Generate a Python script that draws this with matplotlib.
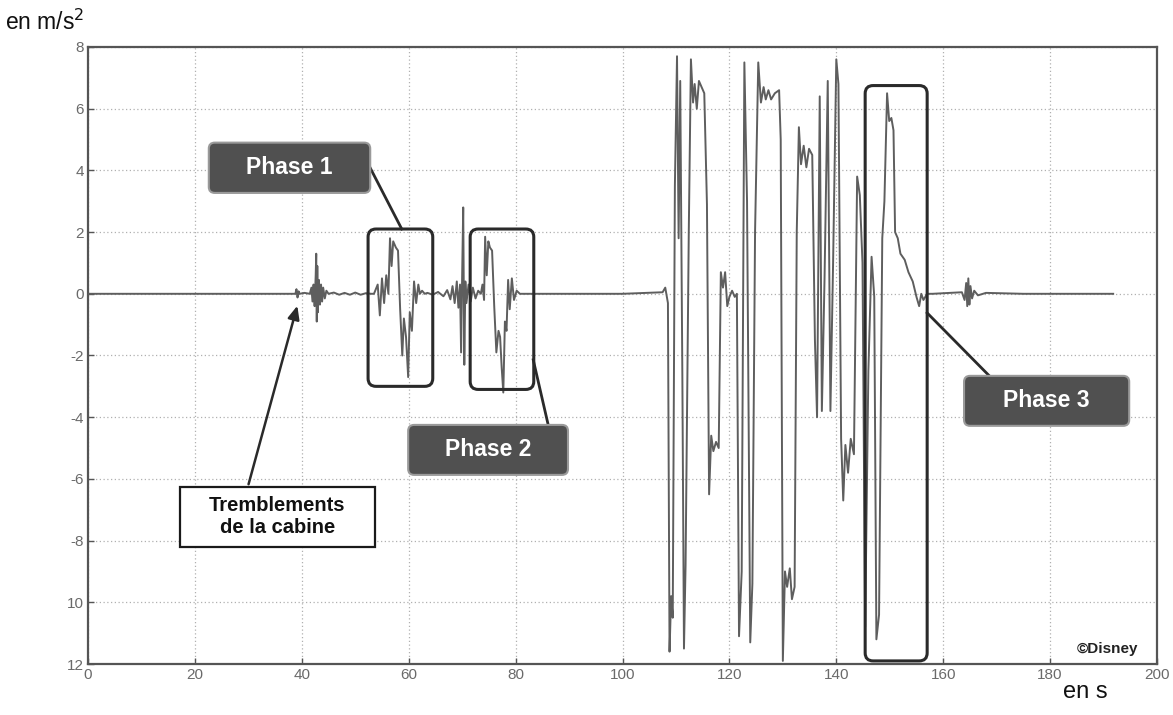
import matplotlib
matplotlib.use("Agg")
import matplotlib.pyplot as plt
from matplotlib.patches import FancyBboxPatch, Rectangle
import numpy as np

plt.rcParams['font.family'] = ['Liberation Sans', 'DejaVu Sans']

# ---------------- data ----------------
quiet_t = [0, 10, 20, 30, 38.5]
quiet_a = [0, 0, 0, 0, 0]

tremor_t = [38.8, 39.0, 39.2, 39.4, 39.6, 40.5, 41.5, 41.8, 42.0, 42.2, 42.4, 42.6, 42.7,
            42.8, 42.9, 43.0, 43.2, 43.4, 43.6, 43.8, 44.0, 44.3, 44.6, 45.0, 46, 47, 48,
            49, 50, 51, 52, 53]
tremor_a = [0, 0.15, -0.12, 0.08, 0, 0.03, 0, 0.2, -0.25, 0.3, -0.4, 0.6, 1.3,
            -0.9, 0.9, -0.6, 0.45, -0.35, 0.3, -0.25, 0.2, -0.15, 0.1, 0, 0.04, -0.03, 0.03,
            -0.03, 0.04, -0.03, 0.02, 0]

phase1_t = [53.5, 54.2, 54.6, 55.0, 55.4, 55.8, 56.2, 56.5, 56.8, 57.1, 57.6, 58.0, 58.4,
            58.8, 59.1, 59.5, 59.9, 60.2, 60.6, 61.0, 61.4, 61.8, 62.1, 62.5, 63.0]
phase1_a = [0, 0.3, -0.7, 0.5, -0.3, 0.6, 0.0, 1.8, 0.9, 1.7, 1.5, 1.4, -0.5,
            -2.0, -0.8, -1.4, -2.7, -0.6, -1.2, 0.4, -0.3, 0.3, 0.0, 0.1, 0]

burst2_t = [63.5, 64.5, 65.5, 66.5, 67.2, 67.8, 68.2, 68.6, 69.0, 69.3, 69.6, 69.8, 70.0,
            70.2, 70.4, 70.6, 70.8, 71.2, 71.6, 72.0, 72.5, 73.0, 73.5]
burst2_a = [0.03, -0.03, 0.06, -0.08, 0.12, -0.18, 0.25, -0.3, 0.4, -0.45, 0.3, -1.9, 0.6,
            2.8, -2.3, 0.4, -0.3, 0.3, -0.25, 0.2, -0.15, 0.1, 0]

phase2_t = [73.8, 74.1, 74.3, 74.6, 74.9, 75.2, 75.6, 76.0, 76.4, 76.8, 77.1, 77.4, 77.7,
            78.0, 78.3, 78.6, 78.9, 79.3, 79.7, 80.2, 80.8]
phase2_a = [0.3, -0.2, 1.85, 0.6, 1.7, 1.5, 1.4, -0.4, -1.9, -1.2, -1.4, -2.4, -3.2,
            -0.9, -1.2, 0.45, -0.5, 0.5, -0.2, 0.1, 0]

calm_t = [81, 90, 100, 107.5, 108.0, 108.3]
calm_a = [0, 0.0, 0.0, 0.05, 0.2, -0.1]

ride_t = [108.5, 108.8, 109.1, 109.4, 109.8, 110.2, 110.5, 110.8, 111.2, 111.5, 111.8, 112.4,
          112.8, 113.2, 113.5, 113.9, 114.3, 114.8, 115.3, 115.8, 116.2, 116.6, 117.0, 117.5,
          118.0, 118.4, 118.8, 119.2, 119.6, 120.0, 120.5, 121.0, 121.4, 121.8, 122.3, 122.8,
          123.3, 123.9, 124.3, 124.8, 125.4, 125.9, 126.4, 126.8, 127.3, 127.8, 128.5, 129.3,
          129.6, 130.0, 130.4, 130.8, 131.3, 131.7, 132.2, 132.6, 133.0, 133.4, 133.9, 134.4,
          134.9, 135.5, 136.0, 136.4, 136.9, 137.3, 137.8, 138.4, 138.9, 139.4, 140.0, 140.4,
          140.9, 141.3, 141.7, 142.2, 142.7, 143.3, 143.9, 144.4, 144.9]
ride_a = [-0.3, -11.6, -9.8, -10.5, 3.5, 7.7, 1.8, 6.9, -2.7, -11.5, -8.8, 2.0,
          7.6, 6.2, 6.8, 6.0, 6.9, 6.7, 6.5, 2.9, -6.5, -4.6, -5.1, -4.8,
          -5.0, 0.7, 0.2, 0.7, -0.4, -0.1, 0.1, -0.1, 0.0, -11.1, -9.0, 7.5,
          3.0, -11.3, -9.4, 2.0, 7.5, 6.2, 6.7, 6.3, 6.6, 6.3, 6.5, 6.6,
          5.0, -11.9, -9.0, -9.5, -8.9, -9.9, -9.5, 2.0, 5.4, 4.2, 4.8, 4.1,
          4.7, 4.5, -1.5, -4.0, 6.4, -3.8, 0.5, 6.9, -3.8, 1.0, 7.6, 6.8,
          -4.7, -6.7, -4.9, -5.8, -4.7, -5.2, 3.8, 3.2, 1.0]

phase3_t = [145.4, 146.0, 146.6, 147.1, 147.5, 148.0, 148.6, 149.0, 149.5, 149.9, 150.3,
            150.7, 151.0, 151.5, 152.0, 152.8, 153.5, 154.3, 155.0, 155.5, 155.9, 156.3, 157.0]
phase3_a = [-10.8, -2.5, 1.2, -0.1, -11.2, -10.4, 1.8, 3.0, 6.5, 5.6, 5.7,
            5.3, 2.0, 1.8, 1.3, 1.1, 0.7, 0.4, -0.1, -0.4, 0.0, -0.2, 0.0]

tail_t = [158, 163.5, 164.0, 164.3, 164.5, 164.7, 164.9, 165.1, 165.4, 165.8, 166.5, 168,
          175, 185, 191.8]
tail_a = [0, 0.05, -0.2, 0.35, -0.4, 0.5, -0.35, 0.25, -0.15, 0.1, -0.05, 0.03,
          0, 0.0, 0]

x_ticks = [0, 20, 40, 60, 80, 100, 120, 140, 160, 180, 200]
y_ticks = [8, 6, 4, 2, 0, -2, -4, -6, -8, -10, -12]
y_tick_labels = ['8', '6', '4', '2', '0', '-2', '-4', '-6', '-8', '10', '12']

t_all = (quiet_t + tremor_t + phase1_t + burst2_t + phase2_t + calm_t + ride_t
         + phase3_t + tail_t)
a_all = (quiet_a + tremor_a + phase1_a + burst2_a + phase2_a + calm_a + ride_a
         + phase3_a + tail_a)

# ---------------- figure ----------------
fig = plt.figure(figsize=(11.73, 7.15), dpi=100)
ax = fig.add_axes([88 / 1173, 1 - 664 / 715, (1157 - 88) / 1173, (664 - 47) / 715])
ax.set_xlim(0, 200)
ax.set_ylim(-12, 8)

ax.plot(t_all, a_all, color='#5e5e5e', lw=1.4, zorder=3)

ax.set_xticks(x_ticks)
ax.set_yticks(y_ticks)
ax.set_yticklabels(y_tick_labels)
ax.tick_params(direction='in', length=4, width=1, colors='#555555', labelsize=11,
               labelcolor='#6a6a6a', pad=3)
ax.grid(True, color='#b0b0b0', linestyle=(0, (1, 2)), linewidth=0.9)
for s in ax.spines.values():
    s.set_color('#555555')
    s.set_linewidth(1.6)

# aspect for rounded corners (y units per x unit in pixel terms)
xpp = 200 / (1157 - 88)
ypp = 20 / (664 - 47)
asp = ypp / xpp


def rbox(x0, x1, y0, y1, r_px, fc, ec, lw):
    p = FancyBboxPatch((x0, y0), x1 - x0, y1 - y0,
                       boxstyle=f"round,pad=0,rounding_size={r_px * xpp}",
                       mutation_aspect=asp, fc=fc, ec=ec, lw=lw, zorder=5,
                       transform=ax.transData, clip_on=False)
    ax.add_patch(p)


# phase boxes
rbox(52.4, 64.5, -3.0, 2.1, 8, 'none', '#2a2a2a', 2.2)
rbox(71.5, 83.4, -3.1, 2.1, 8, 'none', '#2a2a2a', 2.2)
rbox(145.4, 157.0, -11.9, 6.75, 8, 'none', '#2a2a2a', 2.2)

# connector lines
ax.plot([52.8, 58.7], [4.08, 2.1], color='#2a2a2a', lw=2, zorder=5)
ax.plot([83.3, 86.1], [-2.14, -4.25], color='#2a2a2a', lw=2, zorder=5)
ax.plot([157.0, 168.8], [-0.62, -2.69], color='#2a2a2a', lw=2, zorder=5)

# phase labels
labels = [("Phase 1", 22.6, 52.8, 3.27, 4.9),
          ("Phase 2", 59.9, 89.8, -5.87, -4.25),
          ("Phase 3", 163.9, 194.8, -4.28, -2.66)]
for txt, x0, x1, y0, y1 in labels:
    rbox(x0, x1, y0, y1, 6, '#505050', '#9a9a9a', 1.5)
    ax.text((x0 + x1) / 2, (y0 + y1) / 2, txt, color='white', fontsize=16.5,
            fontweight='bold', ha='center', va='center', zorder=6)

# Tremblements box
ax.add_patch(Rectangle((17.2, -8.2), 53.7 - 17.2, 8.2 - 6.26, fc='white', ec='#1a1a1a',
                       lw=1.6, zorder=5, clip_on=False))
ax.text(35.4, -7.23, "Tremblements\nde la cabine", fontsize=14.5, fontweight='bold',
        ha='center', va='center', linespacing=1.2, zorder=6, color='#111111')
ax.annotate("", xy=(39.3, -0.3), xytext=(29.9, -6.26),
            arrowprops=dict(arrowstyle='-|>,head_length=0.8,head_width=0.35',
                            color='#2a2a2a', lw=1.8), zorder=6)

ax.text(196.5, -11.5, "©Disney", fontsize=11, fontweight='bold', ha='right',
        va='center', color='#222222', zorder=6)

fig.text(5 / 1173, 1 - 22 / 715, "en m/s$^2$", fontsize=16.5, ha='left', va='center',
         color='#111111')
fig.text(1063 / 1173, 1 - 692 / 715, "en s", fontsize=17, ha='left', va='center',
         color='#111111')

fig.savefig("out.png", dpi=100)
